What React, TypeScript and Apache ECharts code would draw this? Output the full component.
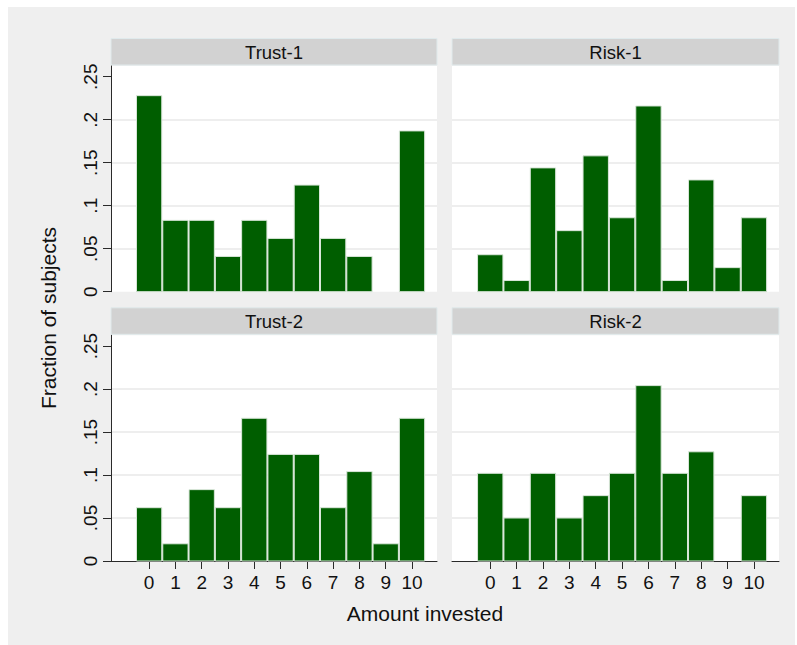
import React, { useEffect, useRef } from 'react';
import * as echarts from 'echarts';

// ---- data (fractions of subjects per amount invested) ----
const bins = [0, 1, 2, 3, 4, 5, 6, 7, 8, 9, 10];
const panelTitles = ['Trust-1', 'Risk-1', 'Trust-2', 'Risk-2'];
const trust1 = [0.228, 0.083, 0.083, 0.041, 0.083, 0.062, 0.124, 0.062, 0.041, 0, 0.187];
const risk1 = [0.043, 0.013, 0.144, 0.071, 0.158, 0.086, 0.216, 0.013, 0.13, 0.028, 0.086];
const trust2 = [0.062, 0.02, 0.083, 0.062, 0.166, 0.124, 0.124, 0.062, 0.104, 0.02, 0.166];
const risk2 = [0.102, 0.05, 0.102, 0.05, 0.076, 0.102, 0.204, 0.102, 0.127, 0, 0.076];
const yTicks = [0, 0.05, 0.1, 0.15, 0.2, 0.25];
const xTicks = bins;
const xTitle = 'Amount invested';
const yTitle = 'Fraction of subjects';

const panelValues = [trust1, risk1, trust2, risk2];

const FONT = '"Liberation Sans", Arial, Helvetica, sans-serif';
const BAR = '#005e00';
const AXIS = '#2a2a2a';

const grids = [
  { left: 111, top: 66, width: 326, height: 225.7 },
  { left: 452, top: 66, width: 327, height: 225.7 },
  { left: 111, top: 335.3, width: 326, height: 225.7 },
  { left: 452, top: 335.3, width: 327, height: 225.7 },
];

const fmtY = (v: number) => {
  if (v === 0) return '0';
  return String(+v.toFixed(2)).replace(/^0/, '');
};

export default function App() {
  const ref = useRef<HTMLDivElement>(null);

  useEffect(() => {
    if (!ref.current) return;
    const chart = echarts.init(ref.current, undefined, { renderer: 'svg' });

    const isBottom = (i: number) => i >= 2;
    const isLeft = (i: number) => i % 2 === 0;

    const option: any = {
      animation: false,
      backgroundColor: 'transparent',
      textStyle: { fontFamily: FONT },
      grid: grids.map((g) => ({
        ...g,
        show: true,
        backgroundColor: '#ffffff',
        borderWidth: 0,
        containLabel: false,
      })),
      xAxis: grids.map((_, i) => ({
        type: 'value',
        gridIndex: i,
        min: -1.45,
        max: 10.95,
        axisLine: { show: isBottom(i), onZero: false, lineStyle: { color: AXIS, width: 1 } },
        axisTick: {
          show: isBottom(i),
          customValues: xTicks,
          length: 8,
          lineStyle: { color: AXIS, width: 1 },
        },
        axisLabel: {
          show: isBottom(i),
          customValues: xTicks,
          fontSize: 19,
          color: '#111',
          fontFamily: FONT,
          margin: 12,
        },
        splitLine: { show: false },
      })),
      yAxis: grids.map((_, i) => ({
        type: 'value',
        gridIndex: i,
        min: 0,
        max: 0.2625,
        axisLine: { show: isLeft(i), onZero: false, lineStyle: { color: AXIS, width: 1 } },
        axisTick: {
          show: isLeft(i),
          customValues: yTicks,
          length: 8,
          lineStyle: { color: AXIS, width: 1 },
        },
        axisLabel: {
          show: isLeft(i),
          customValues: yTicks,
          rotate: 90,
          fontSize: 19,
          color: '#111',
          fontFamily: FONT,
          margin: 11,
          formatter: (v: number) => fmtY(v),
        },
        splitLine: {
          show: true,
          showMinLine: false,
          showMaxLine: false,
          lineStyle: { color: '#e9e9e9', width: 1.5 },
        },
      })),
      series: panelValues.map((vals, i) => ({
        type: 'custom',
        xAxisIndex: i,
        yAxisIndex: i,
        data: bins.map((b, k) => [b, vals[k]]),
        renderItem: (params: any, api: any) => {
          const x = api.value(0);
          const y = api.value(1);
          if (!y) return null;
          const p0 = api.coord([x - 0.5, 0]);
          const p1 = api.coord([x + 0.5, y]);
          return {
            type: 'rect',
            shape: {
              x: p0[0] + 0.5,
              y: p1[1],
              width: p1[0] - p0[0] - 1,
              height: p0[1] - p1[1],
            },
            style: { fill: BAR, stroke: '#d9e6d9', lineWidth: 1 },
          };
        },
      })),
      graphic: [
        ...grids.map((g, i) => ({
          type: 'group',
          children: [
            {
              type: 'rect',
              shape: { x: g.left, y: g.top - 27.5, width: g.width, height: 26.5 },
              style: { fill: '#d2d2d2', stroke: '#e0eaec', lineWidth: 1 },
            },
            {
              type: 'text',
              x: g.left + g.width / 2,
              y: g.top - 14,
              style: {
                text: panelTitles[i],
                fontSize: 18.5,
                fontFamily: FONT,
                fill: '#111',
                align: 'center',
                verticalAlign: 'middle',
              },
            },
          ],
        })),
        {
          type: 'text',
          x: 425,
          y: 613,
          style: {
            text: xTitle,
            fontSize: 21,
            fontFamily: FONT,
            fill: '#111',
            align: 'center',
            verticalAlign: 'middle',
          },
        },
        {
          type: 'text',
          x: 48,
          y: 318,
          rotation: Math.PI / 2,
          style: {
            text: yTitle,
            fontSize: 21,
            fontFamily: FONT,
            fill: '#111',
            align: 'center',
            verticalAlign: 'middle',
          },
        },
      ],
    };

    chart.setOption(option);
    return () => chart.dispose();
  }, []);

  return (
    <div style={{ position: 'absolute', left: 0, top: 0, width: 797, height: 645, background: '#ffffff' }}>
      <div
        style={{
          position: 'absolute',
          left: 8,
          top: 7,
          width: 787,
          height: 638,
          background: '#efefef',
        }}
      />
      <div ref={ref} style={{ position: 'absolute', left: 0, top: 0, width: 797, height: 645 }} />
    </div>
  );
}
